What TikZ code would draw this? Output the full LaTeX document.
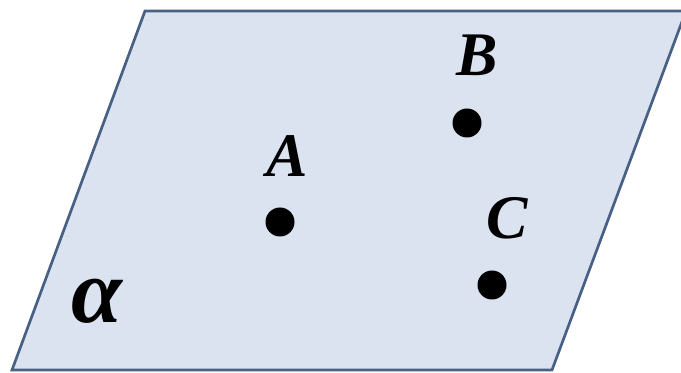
\documentclass[tikz,border=0pt]{standalone}
\usepackage{fontspec}
\setmainfont{Liberation Serif}
\definecolor{planefill}{RGB}{220,227,240}
\definecolor{planeedge}{RGB}{72,96,132}
\tikzset{
    dot/.style={circle, fill=black, inner sep=0pt, minimum size=14.5pt},
    ptlabel/.style={inner sep=0pt, font=\fontsize{31}{31}\selectfont\bfseries\itshape}
}
\begin{document}
\begin{tikzpicture}[x=0.5pt, y=-0.5pt]
    \useasboundingbox (0,0) rectangle (681,373);
    \clip (0,0) rectangle (681,373);

    % Plane alpha
    \filldraw[fill=planefill, draw=planeedge, line width=1.35pt]
        (12,370) -- (552,370) -- (686,11) -- (145,11) -- cycle;
    \node[inner sep=0pt, font=\fontsize{46}{46}\selectfont\bfseries\itshape] (alpha) at (97,301) {α};

    % Points
    \node[dot] (A) at (280,222) {};
    \node[dot] (B) at (467,123) {};
    \node[dot] (C) at (492,285) {};

    % Labels
    \node[ptlabel] (labelA) at (287,156) {A};
    \node[ptlabel] (labelB) at (477,55) {B};
    \node[ptlabel] (labelC) at (507,218) {C};

\end{tikzpicture}
\end{document}
